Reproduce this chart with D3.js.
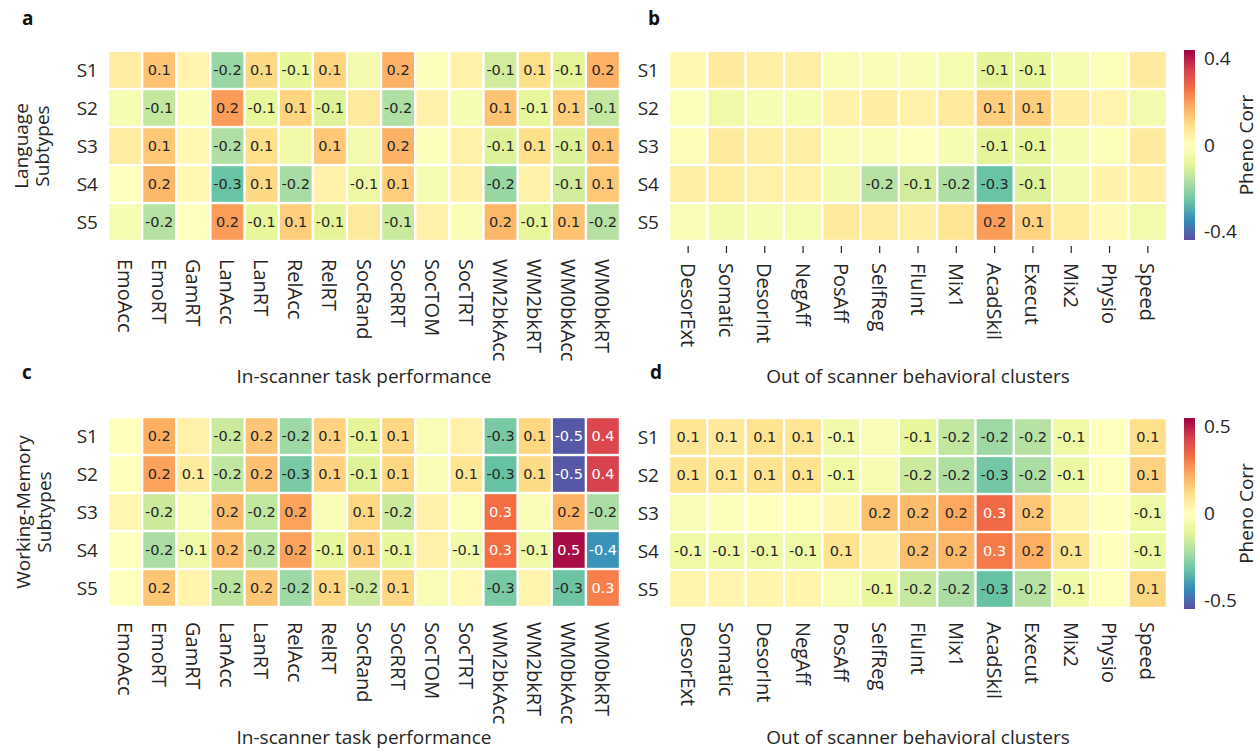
<!DOCTYPE html>
<html>
<head>
<meta charset="utf-8">
<script src="https://cdn.jsdelivr.net/npm/d3@7"></script>
<style>
  body { margin: 0; background: #fff; }
  svg { font-family: "Open Sans", sans-serif; }
  .cell-txt { font-family: "DejaVu Sans", sans-serif; font-size: 14.5px; }
</style>
</head>
<body>
<svg width="1260" height="752"></svg>
<script>
// column / row labels
const subtypes = ["S1", "S2", "S3", "S4", "S5"];
const taskCols = ["EmoAcc", "EmoRT", "GamRT", "LanAcc", "LanRT", "RelAcc", "RelRT", "SocRand",
  "SocRRT", "SocTOM", "SocTRT", "WM2bkAcc", "WM2bkRT", "WM0bkAcc", "WM0bkRT"];
const behavCols = ["DesorExt", "Somatic", "DesorInt", "NegAff", "PosAff", "SelfReg", "FluInt",
  "Mix1", "AcadSkil", "Execut", "Mix2", "Physio", "Speed"];

// a: language subtypes x in-scanner tasks
const langTask = [
  [0.05, 0.14, 0.03, -0.2, 0.1, -0.08, 0.11, -0.04, 0.17, -0.01, 0.04, -0.12, 0.09, -0.09, 0.17],
  [-0.03, -0.14, -0.02, 0.2, -0.08, 0.11, -0.1, 0.06, -0.17, 0.04, -0.03, 0.14, -0.08, 0.12, -0.14],
  [0.05, 0.13, 0.02, -0.17, 0.09, -0.05, 0.13, -0.04, 0.17, -0.01, 0.04, -0.1, 0.09, -0.1, 0.14],
  [0.0, 0.16, 0.02, -0.26, 0.1, -0.18, 0.04, -0.06, 0.12, -0.03, 0.04, -0.2, 0.04, -0.12, 0.13],
  [-0.03, -0.16, 0.0, 0.2, -0.08, 0.12, -0.09, 0.06, -0.13, 0.04, -0.02, 0.16, -0.08, 0.14, -0.16]
];
const langTaskShown = [
  [0, 1, 0, 1, 1, 1, 1, 0, 1, 0, 0, 1, 1, 1, 1],
  [0, 1, 0, 1, 1, 1, 1, 0, 1, 0, 0, 1, 1, 1, 1],
  [0, 1, 0, 1, 1, 0, 1, 0, 1, 0, 0, 1, 1, 1, 1],
  [0, 1, 0, 1, 1, 1, 0, 1, 1, 0, 0, 1, 0, 1, 1],
  [0, 1, 0, 1, 1, 1, 1, 0, 1, 0, 0, 1, 1, 1, 1]
];

// b: language subtypes x behavioural clusters
const langBehav = [
  [0.02, 0.06, 0.045, 0.045, -0.025, -0.025, -0.02, -0.035, -0.09, -0.08, -0.035, -0.015, 0.06],
  [-0.01, -0.05, -0.03, -0.03, 0.035, 0.05, 0.04, 0.06, 0.12, 0.12, 0.05, 0.03, -0.04],
  [0.01, 0.06, 0.045, 0.045, -0.025, -0.02, -0.005, -0.03, -0.09, -0.08, -0.03, -0.015, 0.06],
  [0.045, 0.055, 0.04, 0.04, -0.04, -0.16, -0.12, -0.17, -0.26, -0.1, -0.04, 0.035, 0.045],
  [-0.02, -0.045, -0.03, -0.035, 0.06, 0.05, 0.045, 0.075, 0.2, 0.11, 0.055, 0.015, -0.045]
];
const langBehavShown = [
  [0, 0, 0, 0, 0, 0, 0, 0, 1, 1, 0, 0, 0],
  [0, 0, 0, 0, 0, 0, 0, 0, 1, 1, 0, 0, 0],
  [0, 0, 0, 0, 0, 0, 0, 0, 1, 1, 0, 0, 0],
  [0, 0, 0, 0, 0, 1, 1, 1, 1, 1, 0, 0, 0],
  [0, 0, 0, 0, 0, 0, 0, 0, 1, 1, 0, 0, 0]
];

// c: working-memory subtypes x in-scanner tasks
const wmTask = [
  [0.005, 0.22, 0.05, -0.16, 0.17, -0.24, 0.14, -0.11, 0.13, -0.03, 0.05, -0.3, 0.13, -0.53, 0.42],
  [0.005, 0.24, 0.07, -0.18, 0.18, -0.3, 0.14, -0.12, 0.13, -0.03, 0.09, -0.33, 0.12, -0.53, 0.43],
  [0.03, -0.16, -0.03, 0.19, -0.18, 0.24, -0.02, 0.13, -0.16, 0.05, -0.01, 0.33, -0.03, 0.21, -0.22],
  [0.0, -0.22, -0.07, 0.19, -0.19, 0.24, -0.1, 0.14, -0.1, 0.05, -0.06, 0.33, -0.07, 0.53, -0.42],
  [-0.005, 0.17, 0.04, -0.19, 0.17, -0.24, 0.13, -0.16, 0.13, -0.03, 0.02, -0.3, 0.04, -0.32, 0.3]
];
const wmTaskShown = [
  [0, 1, 0, 1, 1, 1, 1, 1, 1, 0, 0, 1, 1, 1, 1],
  [0, 1, 1, 1, 1, 1, 1, 1, 1, 0, 1, 1, 1, 1, 1],
  [0, 1, 0, 1, 1, 1, 0, 1, 1, 0, 0, 1, 0, 1, 1],
  [0, 1, 1, 1, 1, 1, 1, 1, 1, 0, 1, 1, 1, 1, 1],
  [0, 1, 0, 1, 1, 1, 1, 1, 1, 0, 0, 1, 0, 1, 1]
];

// d: working-memory subtypes x behavioural clusters
const wmBehav = [
  [0.09, 0.08, 0.1, 0.09, -0.06, -0.03, -0.1, -0.18, -0.24, -0.2, -0.07, -0.005, 0.11],
  [0.1, 0.09, 0.1, 0.1, -0.07, -0.04, -0.16, -0.21, -0.31, -0.22, -0.08, -0.005, 0.14],
  [-0.03, -0.01, 0.005, 0.005, 0.025, 0.18, 0.19, 0.23, 0.34, 0.17, 0.04, 0.0, -0.07],
  [-0.07, -0.07, -0.07, -0.07, 0.1, 0.05, 0.18, 0.2, 0.31, 0.22, 0.1, 0.005, -0.08],
  [0.04, 0.035, 0.04, 0.04, -0.03, -0.09, -0.17, -0.22, -0.33, -0.2, -0.07, 0.0, 0.13]
];
const wmBehavShown = [
  [1, 1, 1, 1, 1, 0, 1, 1, 1, 1, 1, 0, 1],
  [1, 1, 1, 1, 1, 0, 1, 1, 1, 1, 1, 0, 1],
  [0, 0, 0, 0, 0, 1, 1, 1, 1, 1, 0, 0, 1],
  [1, 1, 1, 1, 1, 0, 1, 1, 1, 1, 1, 0, 1],
  [0, 0, 0, 0, 0, 1, 1, 1, 1, 1, 1, 0, 1]
];

// colour limits of the two rows of panels
const topLimit = 0.44;
const bottomLimit = 0.55;
const topTicks = [-0.4, 0, 0.4];
const bottomTicks = [-0.5, 0, 0.5];

// Spectral_r as matplotlib does it: straight interpolation between the 11 brewer colours
const spectralR = ["#5e4fa2", "#3288bd", "#66c2a5", "#abdda4", "#e6f598", "#ffffbf",
  "#fee08b", "#fdae61", "#f46d43", "#d53e4f", "#9e0142"];

const svg = d3.select("svg");
const fmt = d3.formatLocale({ decimal: ".", thousands: ",", grouping: [3], currency: ["", ""], minus: "-" }).format(".1f");

// seaborn-like choice of annotation colour
const textColor = (c) => {
  const rgb = d3.rgb(c);
  const lin = [rgb.r, rgb.g, rgb.b].map((v) => {
    v = v / 255;
    return v <= 0.03928 ? v / 12.92 : Math.pow((v + 0.055) / 1.055, 2.4);
  });
  const lum = 0.2126 * lin[0] + 0.7152 * lin[1] + 0.0722 * lin[2];
  return lum > 0.408 ? "#262626" : "#ffffff";
};

const makeColor = (limit) => {
  return d3.scaleLinear()
    .domain(d3.range(spectralR.length).map((i) => -limit + (2 * limit * i) / (spectralR.length - 1)))
    .range(spectralR)
    .interpolate(d3.interpolateRgb)
    .clamp(true);
};

const drawHeatmap = (opt) => {
  const g = svg.append("g");
  const color = makeColor(opt.limit);

  const scaleX = d3.scaleBand().domain(opt.cols).range([opt.x0, opt.x1]);
  const scaleY = d3.scaleBand().domain(subtypes).range([opt.y0, opt.y1]);

  const cells = [];
  opt.values.forEach((row, i) => {
    row.forEach((v, j) => {
      cells.push({ row: subtypes[i], col: opt.cols[j], v: v, shown: opt.shown[i][j] });
    });
  });

  g.selectAll("rect.cell")
    .data(cells)
    .enter()
    .append("rect")
    .attr("class", "cell")
    .attr("x", (d) => scaleX(d.col) + 1.2)
    .attr("y", (d) => scaleY(d.row) + 1.2)
    .attr("width", scaleX.bandwidth() - 2.4)
    .attr("height", scaleY.bandwidth() - 2.4)
    .attr("fill", (d) => color(d.v));

  g.selectAll("text.cell-txt")
    .data(cells.filter((d) => d.shown))
    .enter()
    .append("text")
    .attr("class", "cell-txt")
    .attr("x", (d) => scaleX(d.col) + scaleX.bandwidth() / 2)
    .attr("y", (d) => scaleY(d.row) + scaleY.bandwidth() / 2)
    .attr("text-anchor", "middle")
    .attr("dominant-baseline", "central")
    .attr("fill", (d) => textColor(color(d.v)))
    .text((d) => fmt(d.v));

  // row labels
  g.selectAll("text.row-lab")
    .data(subtypes)
    .enter()
    .append("text")
    .attr("class", "row-lab")
    .attr("x", opt.x0 - 10)
    .attr("y", (d) => scaleY(d) + scaleY.bandwidth() / 2)
    .attr("text-anchor", "end")
    .attr("dominant-baseline", "central")
    .attr("font-size", 19)
    .attr("fill", "#262626")
    .text((d) => d);

  // optional little tick marks (panel b only)
  if (opt.ticks) {
    g.selectAll("line.tick")
      .data(opt.cols)
      .enter()
      .append("line")
      .attr("x1", (d) => scaleX(d) + scaleX.bandwidth() / 2)
      .attr("x2", (d) => scaleX(d) + scaleX.bandwidth() / 2)
      .attr("y1", opt.y1 + 5)
      .attr("y2", opt.y1 + 12)
      .attr("stroke", "#262626")
      .attr("stroke-width", 1.2);
  }

  // column labels, rotated clockwise
  g.selectAll("text.col-lab")
    .data(opt.cols)
    .enter()
    .append("text")
    .attr("class", "col-lab")
    .attr("transform", (d) => `translate(${scaleX(d) + scaleX.bandwidth() / 2},${opt.labelTop}) rotate(90)`)
    .attr("dominant-baseline", "central")
    .attr("font-size", 20)
    .attr("fill", "#262626")
    .text((d) => d);

  // x title
  g.append("text")
    .attr("x", (opt.x0 + opt.x1) / 2)
    .attr("y", opt.titleY)
    .attr("text-anchor", "middle")
    .attr("font-size", 19)
    .attr("fill", "#262626")
    .text(opt.title);

  // panel letter
  g.append("text")
    .attr("x", opt.letterX)
    .attr("y", opt.letterY)
    .attr("font-size", 19)
    .attr("font-weight", "bold")
    .attr("fill", "#111")
    .text(opt.letter);

  // y title (two lines)
  if (opt.yTitle) {
    const yt = g.append("text")
      .attr("transform", `translate(${opt.yTitleX},${(opt.y0 + opt.y1) / 2}) rotate(-90)`)
      .attr("text-anchor", "middle")
      .attr("font-size", 19)
      .attr("fill", "#262626");
    opt.yTitle.forEach((line, k) => {
      yt.append("tspan")
        .attr("x", 0)
        .attr("dy", k === 0 ? 0 : 21)
        .text(line);
    });
  }

  // colorbar
  if (opt.colorbar) {
    const cb = opt.colorbar;
    const gradId = "grad-" + opt.letter;
    const grad = svg.append("defs").append("linearGradient")
      .attr("id", gradId)
      .attr("x1", 0).attr("y1", 1).attr("x2", 0).attr("y2", 0);
    d3.range(0, 1.0001, 0.05).forEach((t) => {
      grad.append("stop")
        .attr("offset", t)
        .attr("stop-color", color(-opt.limit + t * 2 * opt.limit));
    });
    const scaleC = d3.scaleLinear().domain([-opt.limit, opt.limit]).range([cb.y1, cb.y0]);
    g.append("rect")
      .attr("x", cb.x)
      .attr("y", cb.y0)
      .attr("width", cb.w)
      .attr("height", cb.y1 - cb.y0)
      .attr("fill", `url(#${gradId})`);

    const axisC = d3.axisRight(scaleC)
      .tickValues(cb.ticks)
      .tickSize(0)
      .tickPadding(cb.w + 9)
      .tickFormat((v) => (v === 0 ? "0" : fmt(v)));
    const ag = g.append("g")
      .attr("transform", `translate(${cb.x},0)`)
      .call(axisC);
    ag.select(".domain").remove();
    ag.selectAll("text")
      .attr("font-size", 19)
      .attr("font-family", "Open Sans, sans-serif")
      .attr("fill", "#262626");

    g.append("text")
      .attr("transform", `translate(${cb.x + 62},${(cb.y0 + cb.y1) / 2}) rotate(-90)`)
      .attr("text-anchor", "middle")
      .attr("dominant-baseline", "central")
      .attr("font-size", 19)
      .attr("fill", "#262626")
      .text("Pheno Corr");
  }
};

drawHeatmap({
  values: langTask, shown: langTaskShown, cols: taskCols, limit: topLimit,
  x0: 108, x1: 620, y0: 51, y1: 241, labelTop: 259, titleY: 383,
  title: "In-scanner task performance", letter: "a", letterX: 22, letterY: 25,
  yTitle: ["Language", "Subtypes"], yTitleX: 28
});

drawHeatmap({
  values: langBehav, shown: langBehavShown, cols: behavCols, limit: topLimit,
  x0: 669, x1: 1167, y0: 51, y1: 241, labelTop: 263, titleY: 383, ticks: true,
  title: "Out of scanner behavioral clusters", letter: "b", letterX: 648, letterY: 25,
  colorbar: { x: 1184, w: 11, y0: 50, y1: 240, ticks: topTicks }
});

drawHeatmap({
  values: wmTask, shown: wmTaskShown, cols: taskCols, limit: bottomLimit,
  x0: 108, x1: 620, y0: 417, y1: 607, labelTop: 622, titleY: 744,
  title: "In-scanner task performance", letter: "c", letterX: 22, letterY: 379,
  yTitle: ["Working-Memory", "Subtypes"], yTitleX: 30
});

drawHeatmap({
  values: wmBehav, shown: wmBehavShown, cols: behavCols, limit: bottomLimit,
  x0: 669, x1: 1167, y0: 418, y1: 608, labelTop: 622, titleY: 744,
  title: "Out of scanner behavioral clusters", letter: "d", letterX: 650, letterY: 379,
  colorbar: { x: 1184, w: 11, y0: 418, y1: 609, ticks: bottomTicks }
});
</script>
</body>
</html>
